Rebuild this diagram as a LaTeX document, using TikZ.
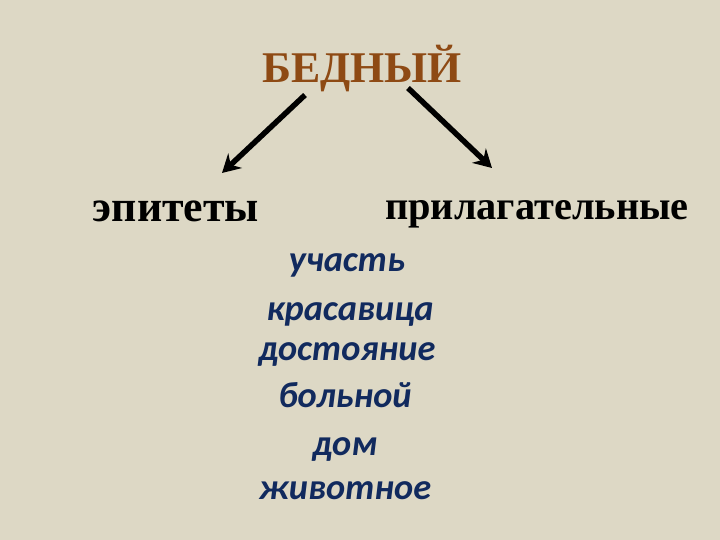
\documentclass[tikz,border=0pt]{standalone}
\usepackage{fontspec}
\setmainfont{Liberation Serif}
\newfontfamily\carl{Carlito}
\usetikzlibrary{arrows.meta}
\definecolor{bg}{HTML}{DDD8C5}
\definecolor{titlebrown}{HTML}{8E4A14}
\definecolor{navy}{HTML}{112A5E}
\tikzset{
  titletext/.style={anchor=base, inner sep=0pt, text=titlebrown, font=\fontsize{44}{48}\selectfont\bfseries},
  headword/.style={anchor=base, inner sep=0pt, text=black, font=\fontsize{44}{48}\selectfont\bfseries},
  listword/.style={anchor=base, inner sep=0pt, text=navy, font=\carl\fontsize{36.5}{40}\selectfont\bfseries\itshape},
  bigarrow/.style={line width=5.5pt, -{Stealth[length=18pt,width=20pt,inset=6pt]}, black}
}
\begin{document}
\begin{tikzpicture}[x=1bp,y=-1bp]
\fill[bg] (0,0) rectangle (720,540);
\useasboundingbox (0,0) rectangle (720,540);
\node[titletext] (title) at (362,83) {БЕДНЫЙ};
\node[headword] (epi) at (176,222) {эпитеты};
\node[headword, font=\fontsize{40.5}{44}\selectfont\bfseries] (adj) at (537,220) {прилагательные};
\node[listword] (w1) at (347,272) {участь};
\node[listword] (w2) at (350,320) {красавица};
\node[listword] (w3) at (347,360) {достояние};
\node[listword] (w4) at (345,407) {больной};
\node[listword] (w5) at (345,455) {дом};
\node[listword] (w6) at (345,499) {животное};
\coordinate (l1) at (305,95);
\coordinate (l2) at (222,173);
\coordinate (r1) at (408,88);
\coordinate (r2) at (492,168);
\draw[bigarrow] (l1) -- (l2);
\draw[bigarrow] (r1) -- (r2);
\end{tikzpicture}
\end{document}
